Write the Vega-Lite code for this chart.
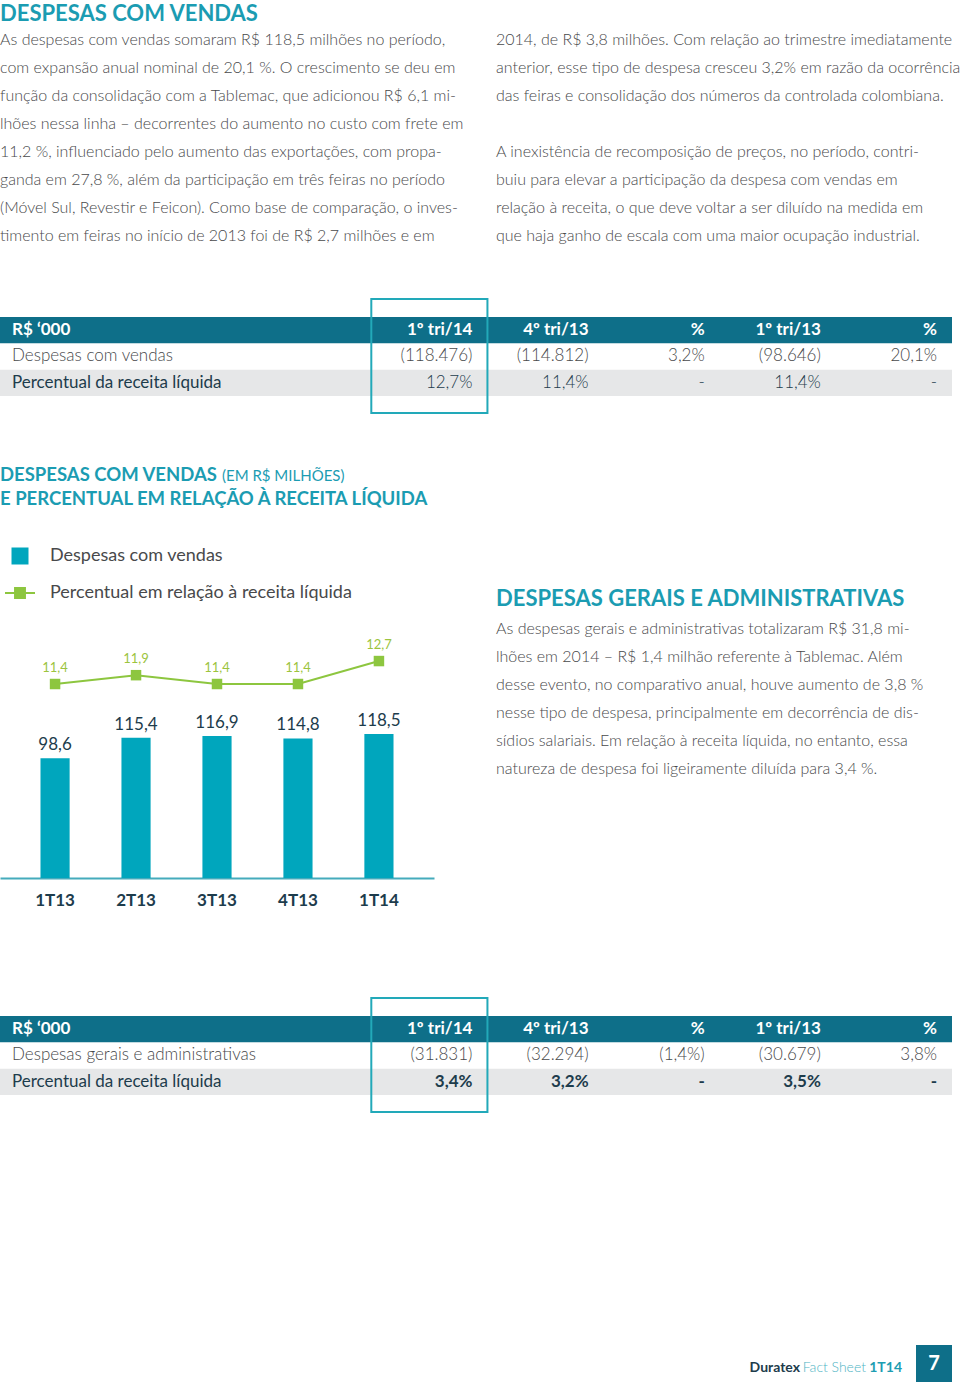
{
  "$schema": "https://vega.github.io/schema/vega-lite/v6.json",
  "padding": 0,
  "autosize": {"type": "pad"},
  "background": "#ffffff",
  "spacing": 0,
  "config": {
    "view": {"stroke": null},
    "font": "Lato",
    "text": {"font": "Lato"},
    "locale": {"number": {"decimal": ",", "thousands": ".", "grouping": [3], "currency": ["R$ ", ""]}}
  },
  "datasets": {
    "textA": [
      {"col": "L", "line": 0, "kind": "head", "text": "DESPESAS COM VENDAS"},
      {"col": "L", "line": 1, "kind": "body", "text": "As despesas com vendas somaram R$ 118,5 milhões no período,"},
      {"col": "L", "line": 2, "kind": "body", "text": "com expansão anual nominal de 20,1 %. O crescimento se deu em"},
      {"col": "L", "line": 3, "kind": "body", "text": "função da consolidação com a Tablemac, que adicionou R$ 6,1 mi-"},
      {"col": "L", "line": 4, "kind": "body", "text": "lhões nessa linha – decorrentes do aumento no custo com frete em"},
      {"col": "L", "line": 5, "kind": "body", "text": "11,2 %, influenciado pelo aumento das exportações, com propa-"},
      {"col": "L", "line": 6, "kind": "body", "text": "ganda em 27,8 %, além da participação em três feiras no período"},
      {"col": "L", "line": 7, "kind": "body", "text": "(Móvel Sul, Revestir e Feicon). Como base de comparação, o inves-"},
      {"col": "L", "line": 8, "kind": "body", "text": "timento em feiras no início de 2013 foi de R$ 2,7 milhões e em"},
      {"col": "R", "line": 1, "kind": "body", "text": "2014, de R$ 3,8 milhões. Com relação ao trimestre imediatamente"},
      {"col": "R", "line": 2, "kind": "body", "text": "anterior, esse tipo de despesa cresceu 3,2% em razão da ocorrência"},
      {"col": "R", "line": 3, "kind": "body", "text": "das feiras e consolidação dos números da controlada colombiana."},
      {"col": "R", "line": 5, "kind": "body", "text": "A inexistência de recomposição de preços, no período, contri-"},
      {"col": "R", "line": 6, "kind": "body", "text": "buiu para elevar a participação da despesa com vendas em"},
      {"col": "R", "line": 7, "kind": "body", "text": "relação à receita, o que deve voltar a ser diluído na medida em"},
      {"col": "R", "line": 8, "kind": "body", "text": "que haja ganho de escala com uma maior ocupação industrial."}
    ],
    "textC": [
      {"col": "R", "line": 0, "kind": "head", "text": "DESPESAS GERAIS E ADMINISTRATIVAS"},
      {"col": "R", "line": 1, "kind": "body", "text": "As despesas gerais e administrativas totalizaram R$ 31,8 mi-"},
      {"col": "R", "line": 2, "kind": "body", "text": "lhões em 2014 – R$ 1,4 milhão referente à Tablemac. Além"},
      {"col": "R", "line": 3, "kind": "body", "text": "desse evento, no comparativo anual, houve aumento de 3,8 %"},
      {"col": "R", "line": 4, "kind": "body", "text": "nesse tipo de despesa, principalmente em decorrência de dis-"},
      {"col": "R", "line": 5, "kind": "body", "text": "sídios salariais. Em relação à receita líquida, no entanto, essa"},
      {"col": "R", "line": 6, "kind": "body", "text": "natureza de despesa foi ligeiramente diluída para 3,4 %."}
    ],
    "ctitle": [
      {"col": "T", "line": 1, "part": "a", "text": "DESPESAS COM VENDAS"},
      {"col": "T", "line": 1, "part": "b", "text": "(EM R$ MILHÕES)"},
      {"col": "T", "line": 2, "part": "a", "text": "E PERCENTUAL EM RELAÇÃO À RECEITA LÍQUIDA"}
    ],
    "chart": [
      {"q": "1T13", "desp": 98.6, "pct": 11.4},
      {"q": "2T13", "desp": 115.4, "pct": 11.9},
      {"q": "3T13", "desp": 116.9, "pct": 11.4},
      {"q": "4T13", "desp": 114.8, "pct": 11.4},
      {"q": "1T14", "desp": 118.5, "pct": 12.7}
    ],
    "t1": [
      {"row": "h", "col": "label", "text": "R$ ‘000"},
      {"row": "h", "col": "c1", "text": "1º tri/14"},
      {"row": "h", "col": "c2", "text": "4º tri/13"},
      {"row": "h", "col": "c3", "text": "%"},
      {"row": "h", "col": "c4", "text": "1º tri/13"},
      {"row": "h", "col": "c5", "text": "%"},
      {"row": "r1", "col": "label", "text": "Despesas com vendas"},
      {"row": "r1", "col": "c1", "text": "(118.476)"},
      {"row": "r1", "col": "c2", "text": "(114.812)"},
      {"row": "r1", "col": "c3", "text": "3,2%"},
      {"row": "r1", "col": "c4", "text": "(98.646)"},
      {"row": "r1", "col": "c5", "text": "20,1%"},
      {"row": "r2", "col": "label", "text": "Percentual da receita líquida"},
      {"row": "r2", "col": "c1", "text": "12,7%"},
      {"row": "r2", "col": "c2", "text": "11,4%"},
      {"row": "r2", "col": "c3", "text": "-"},
      {"row": "r2", "col": "c4", "text": "11,4%"},
      {"row": "r2", "col": "c5", "text": "-"}
    ],
    "t2": [
      {"row": "h", "col": "label", "text": "R$ ‘000"},
      {"row": "h", "col": "c1", "text": "1º tri/14"},
      {"row": "h", "col": "c2", "text": "4º tri/13"},
      {"row": "h", "col": "c3", "text": "%"},
      {"row": "h", "col": "c4", "text": "1º tri/13"},
      {"row": "h", "col": "c5", "text": "%"},
      {"row": "r1", "col": "label", "text": "Despesas gerais e administrativas"},
      {"row": "r1", "col": "c1", "text": "(31.831)"},
      {"row": "r1", "col": "c2", "text": "(32.294)"},
      {"row": "r1", "col": "c3", "text": "(1,4%)"},
      {"row": "r1", "col": "c4", "text": "(30.679)"},
      {"row": "r1", "col": "c5", "text": "3,8%"},
      {"row": "r2", "col": "label", "text": "Percentual da receita líquida"},
      {"row": "r2", "col": "c1", "text": "3,4%"},
      {"row": "r2", "col": "c2", "text": "3,2%"},
      {"row": "r2", "col": "c3", "text": "-"},
      {"row": "r2", "col": "c4", "text": "3,5%"},
      {"row": "r2", "col": "c5", "text": "-"}
    ],
    "footer": [
      {"page": "7", "brand": "Duratex", "doc": "Fact Sheet", "period": "1T14"}
    ]
  },
  "vconcat": [
    {
      "width": 952, "height": 298,
      "data": {"name": "textA"},
      "encoding": {
        "x": {"field": "col", "type": "nominal", "axis": null, "bandPosition": 0, "scale": {"type": "band", "domain": ["L", "R"], "paddingInner": 0.0806, "paddingOuter": 0}},
        "y": {"field": "line", "type": "quantitative", "axis": null, "scale": {"domain": [-0.4286, 10.2143], "reverse": true, "zero": false, "nice": false}},
        "text": {"field": "text"}
      },
      "layer": [
        {"transform": [{"filter": "datum.kind === 'head'"}], "mark": {"type": "text", "align": "left", "baseline": "middle", "fontWeight": "bold", "fontSize": 22, "color": "#1b9cb2", "dy": 2}},
        {"transform": [{"filter": "datum.kind === 'body'"}], "mark": {"type": "text", "align": "left", "baseline": "middle", "fontWeight": 300, "fontSize": 16, "color": "#48494b"}}
      ]
    },
    {
      "width": 952, "height": 114,
      "data": {"name": "t1"},
      "resolve": {"scale": {"x": "independent"}},
      "encoding": {
        "y": {"field": "row", "type": "ordinal", "axis": null, "scale": {"type": "band", "domain": ["h", "r1", "r2"], "paddingInner": 0, "paddingOuter": 0.665, "align": 0.514}}
      },
      "layer": [
        {"transform": [{"filter": "datum.col === 'label' && datum.row === 'h'"}], "mark": {"type": "rect", "color": "#0e6f89"}},
        {"transform": [{"filter": "datum.col === 'label' && datum.row === 'r2'"}], "mark": {"type": "rect", "color": "#e6e7e8"}},
        {"transform": [{"filter": "datum.col === 'label' && datum.row === 'h'"}], "mark": {"type": "text", "align": "left", "baseline": "middle", "dx": 12, "fontWeight": "bold", "fontSize": 17, "color": "#ffffff"},
         "encoding": {"x": {"field": "col", "type": "nominal", "axis": null, "bandPosition": 0, "scale": {"type": "band", "domain": ["label"], "paddingInner": 0, "paddingOuter": 0}}, "text": {"field": "text"}}},
        {"transform": [{"filter": "datum.col === 'label' && datum.row === 'r1'"}], "mark": {"type": "text", "align": "left", "baseline": "middle", "dx": 12, "fontWeight": 300, "fontSize": 17, "color": "#48494b"},
         "encoding": {"x": {"field": "col", "type": "nominal", "axis": null, "bandPosition": 0, "scale": {"type": "band", "domain": ["label"], "paddingInner": 0, "paddingOuter": 0}}, "text": {"field": "text"}}},
        {"transform": [{"filter": "datum.col === 'label' && datum.row === 'r2'"}], "mark": {"type": "text", "align": "left", "baseline": "middle", "dx": 12, "fontWeight": "normal", "fontSize": 17, "color": "#1d3c4c"},
         "encoding": {"x": {"field": "col", "type": "nominal", "axis": null, "bandPosition": 0, "scale": {"type": "band", "domain": ["label"], "paddingInner": 0, "paddingOuter": 0}}, "text": {"field": "text"}}},
        {"transform": [{"filter": "datum.col !== 'label' && datum.row === 'h'"}], "mark": {"type": "text", "align": "right", "baseline": "middle", "dx": -15, "fontWeight": "bold", "fontSize": 17, "color": "#ffffff"},
         "encoding": {"x": {"field": "col", "type": "nominal", "axis": null, "bandPosition": 1, "scale": {"type": "band", "domain": ["x1", "x2", "c1", "c2", "c3", "c4", "c5"], "paddingInner": 0, "paddingOuter": 0.5985, "align": 1}}, "text": {"field": "text"}}},
        {"transform": [{"filter": "datum.col !== 'label' && datum.row === 'r1'"}], "mark": {"type": "text", "align": "right", "baseline": "middle", "dx": -15, "fontWeight": 300, "fontSize": 17, "color": "#48494b"},
         "encoding": {"x": {"field": "col", "type": "nominal", "axis": null, "bandPosition": 1, "scale": {"type": "band", "domain": ["x1", "x2", "c1", "c2", "c3", "c4", "c5"], "paddingInner": 0, "paddingOuter": 0.5985, "align": 1}}, "text": {"field": "text"}}},
        {"transform": [{"filter": "datum.col !== 'label' && datum.row === 'r2'"}], "mark": {"type": "text", "align": "right", "baseline": "middle", "dx": -15, "fontWeight": 300, "fontSize": 17, "color": "#1d3c4c"},
         "encoding": {"x": {"field": "col", "type": "nominal", "axis": null, "bandPosition": 1, "scale": {"type": "band", "domain": ["x1", "x2", "c1", "c2", "c3", "c4", "c5"], "paddingInner": 0, "paddingOuter": 0.5985, "align": 1}}, "text": {"field": "text"}}},
        {"transform": [{"filter": "datum.col === 'c1' && datum.row === 'h'"}], "mark": {"type": "rect", "fillOpacity": 0, "stroke": "#22a9b9", "strokeWidth": 2},
         "encoding": {"x": {"field": "col", "type": "nominal", "axis": null, "scale": {"type": "band", "domain": ["x1", "x2", "c1", "c2", "c3", "c4", "c5"], "paddingInner": 0, "paddingOuter": 0.5985, "align": 1}}, "y": null}}
      ]
    },
    {
      "hconcat": [
        {
          "width": 434, "height": 464,
          "data": {"name": "chart"},
          "layer": [
            {
              "mark": {"type": "bar"},
              "encoding": {
                "x": {"field": "q", "type": "nominal", "sort": null,
                      "scale": {"type": "band", "paddingInner": 0.64, "paddingOuter": 0.5},
                      "axis": {"title": null, "domain": true, "domainColor": "#45abbc", "domainWidth": 2, "ticks": false, "tickSize": 0, "grid": false, "labelAngle": 0, "labelPadding": 14, "labelFont": "Lato", "labelFontSize": 17, "labelFontWeight": "bold", "labelColor": "#1d3c4c"}},
                "y": {"field": "desp", "type": "quantitative", "scale": {"domain": [0, 381.8], "nice": false}, "axis": null},
                "color": {
                  "datum": "Despesas com vendas", "type": "nominal",
                  "scale": {"domain": ["Despesas com vendas", "Percentual em relação à receita líquida"], "range": ["#00a6bd", "#8dc63f"]},
                  "legend": {
                    "orient": "none", "legendX": 11, "legendY": 547, "title": null, "direction": "vertical",
                    "labelFont": "Lato", "labelFontSize": 18, "labelColor": "#48494b", "labelOffset": 21, "labelLimit": 420,
                    "rowPadding": 19, "padding": 0, "symbolSize": 900, "symbolStrokeWidth": 2,
                    "encode": {
                      "symbols": {
                        "update": {
                          "shape": {"signal": "datum.value === 'Despesas com vendas' ? 'square' : 'M-1,0H1M-0.33,-0.33H0.33V0.33H-0.33Z'"},
                          "size": {"signal": "datum.value === 'Despesas com vendas' ? 289 : 900"},
                          "fill": {"signal": "datum.value === 'Despesas com vendas' ? '#00a6bd' : '#8dc63f'"},
                          "stroke": {"signal": "datum.value === 'Despesas com vendas' ? '#00a6bd' : '#9dc84d'"},
                          "strokeWidth": {"signal": "datum.value === 'Despesas com vendas' ? 0 : 2"},
                          "opacity": {"value": 1},
                          "fillOpacity": {"value": 1}
                        }
                      }
                    }
                  }
                }
              }
            },
            {
              "mark": {"type": "text", "baseline": "alphabetic", "dy": -8, "fontSize": 17, "color": "#1d3c4c"},
              "encoding": {
                "x": {"field": "q", "type": "nominal", "sort": null, "axis": null, "scale": {"type": "band", "paddingInner": 0.64, "paddingOuter": 0.5}},
                "y": {"field": "desp", "type": "quantitative", "scale": {"domain": [0, 381.8], "nice": false}, "axis": null},
                "text": {"field": "desp", "type": "quantitative", "format": ".1f"}
              }
            },
            {
              "mark": {"type": "line", "strokeWidth": 2},
              "encoding": {
                "x": {"field": "q", "type": "nominal", "sort": null, "axis": null, "scale": {"type": "band", "paddingInner": 0.64, "paddingOuter": 0.5}},
                "y": {"field": "pct", "type": "quantitative", "scale": {"domain": [0.415, 26.69], "zero": false, "nice": false}, "axis": null},
                "color": {"datum": "Percentual em relação à receita líquida", "type": "nominal"}
              }
            },
            {
              "mark": {"type": "point", "shape": "square", "filled": true, "size": 110, "opacity": 1, "color": "#8dc63f"},
              "encoding": {
                "x": {"field": "q", "type": "nominal", "sort": null, "axis": null, "scale": {"type": "band", "paddingInner": 0.64, "paddingOuter": 0.5}},
                "y": {"field": "pct", "type": "quantitative", "scale": {"domain": [0.415, 26.69], "zero": false, "nice": false}, "axis": null}
              }
            },
            {
              "mark": {"type": "text", "baseline": "alphabetic", "dy": -12, "fontSize": 13, "color": "#9cc43e"},
              "encoding": {
                "x": {"field": "q", "type": "nominal", "sort": null, "axis": null, "scale": {"type": "band", "paddingInner": 0.64, "paddingOuter": 0.5}},
                "y": {"field": "pct", "type": "quantitative", "scale": {"domain": [0.415, 26.69], "zero": false, "nice": false}, "axis": null},
                "text": {"field": "pct", "type": "quantitative", "format": ".1f"}
              }
            },
            {
              "data": {"name": "ctitle"},
              "transform": [{"filter": "datum.part === 'a'"}],
              "mark": {"type": "text", "align": "left", "baseline": "middle", "fontWeight": "bold", "fontSize": 18.5, "color": "#1b9cb2"},
              "encoding": {
                "x": {"field": "col", "type": "nominal", "axis": null, "bandPosition": 0, "scale": {"type": "band", "paddingInner": 0, "paddingOuter": 0}},
                "y": {"field": "line", "type": "quantitative", "axis": null, "scale": {"domain": [-1.5417, 17.7917], "reverse": true, "zero": false, "nice": false}},
                "text": {"field": "text"}
              }
            },
            {
              "data": {"name": "ctitle"},
              "transform": [{"filter": "datum.part === 'b'"}],
              "mark": {"type": "text", "align": "left", "baseline": "middle", "dx": 222, "dy": 1, "fontWeight": "normal", "fontSize": 15, "color": "#1b9cb2"},
              "encoding": {
                "x": {"field": "col", "type": "nominal", "axis": null, "bandPosition": 0, "scale": {"type": "band", "paddingInner": 0, "paddingOuter": 0}},
                "y": {"field": "line", "type": "quantitative", "axis": null, "scale": {"domain": [-1.5417, 17.7917], "reverse": true, "zero": false, "nice": false}},
                "text": {"field": "text"}
              }
            }
          ],
          "resolve": {"scale": {"x": "independent", "y": "independent"}}
        },
        {
          "width": 456, "height": 583,
          "data": {"name": "textC"},
          "encoding": {
            "x": {"field": "col", "type": "nominal", "axis": null, "bandPosition": 0, "scale": {"type": "band", "paddingInner": 0, "paddingOuter": 0}},
            "y": {"field": "line", "type": "quantitative", "axis": null, "scale": {"domain": [-6.679, 14.143], "reverse": true, "zero": false, "nice": false}},
            "text": {"field": "text"}
          },
          "layer": [
            {"transform": [{"filter": "datum.kind === 'head'"}], "mark": {"type": "text", "align": "left", "baseline": "middle", "fontWeight": "bold", "fontSize": 22, "color": "#1b9cb2", "dy": -2}},
            {"transform": [{"filter": "datum.kind === 'body'"}], "mark": {"type": "text", "align": "left", "baseline": "middle", "fontWeight": 300, "fontSize": 16, "color": "#48494b"}}
          ]
        }
      ],
      "spacing": 62
    },
    {
      "width": 952, "height": 114,
      "data": {"name": "t2"},
      "resolve": {"scale": {"x": "independent"}},
      "encoding": {
        "y": {"field": "row", "type": "ordinal", "axis": null, "scale": {"type": "band", "domain": ["h", "r1", "r2"], "paddingInner": 0, "paddingOuter": 0.665, "align": 0.514}}
      },
      "layer": [
        {"transform": [{"filter": "datum.col === 'label' && datum.row === 'h'"}], "mark": {"type": "rect", "color": "#0e6f89"}},
        {"transform": [{"filter": "datum.col === 'label' && datum.row === 'r2'"}], "mark": {"type": "rect", "color": "#e6e7e8"}},
        {"transform": [{"filter": "datum.col === 'label' && datum.row === 'h'"}], "mark": {"type": "text", "align": "left", "baseline": "middle", "dx": 12, "fontWeight": "bold", "fontSize": 17, "color": "#ffffff"},
         "encoding": {"x": {"field": "col", "type": "nominal", "axis": null, "bandPosition": 0, "scale": {"type": "band", "domain": ["label"], "paddingInner": 0, "paddingOuter": 0}}, "text": {"field": "text"}}},
        {"transform": [{"filter": "datum.col === 'label' && datum.row === 'r1'"}], "mark": {"type": "text", "align": "left", "baseline": "middle", "dx": 12, "fontWeight": 300, "fontSize": 17, "color": "#48494b"},
         "encoding": {"x": {"field": "col", "type": "nominal", "axis": null, "bandPosition": 0, "scale": {"type": "band", "domain": ["label"], "paddingInner": 0, "paddingOuter": 0}}, "text": {"field": "text"}}},
        {"transform": [{"filter": "datum.col === 'label' && datum.row === 'r2'"}], "mark": {"type": "text", "align": "left", "baseline": "middle", "dx": 12, "fontWeight": "normal", "fontSize": 17, "color": "#1d3c4c"},
         "encoding": {"x": {"field": "col", "type": "nominal", "axis": null, "bandPosition": 0, "scale": {"type": "band", "domain": ["label"], "paddingInner": 0, "paddingOuter": 0}}, "text": {"field": "text"}}},
        {"transform": [{"filter": "datum.col !== 'label' && datum.row === 'h'"}], "mark": {"type": "text", "align": "right", "baseline": "middle", "dx": -15, "fontWeight": "bold", "fontSize": 17, "color": "#ffffff"},
         "encoding": {"x": {"field": "col", "type": "nominal", "axis": null, "bandPosition": 1, "scale": {"type": "band", "domain": ["x1", "x2", "c1", "c2", "c3", "c4", "c5"], "paddingInner": 0, "paddingOuter": 0.5985, "align": 1}}, "text": {"field": "text"}}},
        {"transform": [{"filter": "datum.col !== 'label' && datum.row === 'r1'"}], "mark": {"type": "text", "align": "right", "baseline": "middle", "dx": -15, "fontWeight": 300, "fontSize": 17, "color": "#48494b"},
         "encoding": {"x": {"field": "col", "type": "nominal", "axis": null, "bandPosition": 1, "scale": {"type": "band", "domain": ["x1", "x2", "c1", "c2", "c3", "c4", "c5"], "paddingInner": 0, "paddingOuter": 0.5985, "align": 1}}, "text": {"field": "text"}}},
        {"transform": [{"filter": "datum.col !== 'label' && datum.row === 'r2'"}], "mark": {"type": "text", "align": "right", "baseline": "middle", "dx": -15, "fontWeight": "bold", "fontSize": 17, "color": "#1d3c4c"},
         "encoding": {"x": {"field": "col", "type": "nominal", "axis": null, "bandPosition": 1, "scale": {"type": "band", "domain": ["x1", "x2", "c1", "c2", "c3", "c4", "c5"], "paddingInner": 0, "paddingOuter": 0.5985, "align": 1}}, "text": {"field": "text"}}},
        {"transform": [{"filter": "datum.col === 'c1' && datum.row === 'h'"}], "mark": {"type": "rect", "fillOpacity": 0, "stroke": "#22a9b9", "strokeWidth": 2},
         "encoding": {"x": {"field": "col", "type": "nominal", "axis": null, "scale": {"type": "band", "domain": ["x1", "x2", "c1", "c2", "c3", "c4", "c5"], "paddingInner": 0, "paddingOuter": 0.5985, "align": 1}}, "y": null}}
      ]
    },
    {
      "width": 952, "height": 269,
      "data": {"name": "footer"},
      "encoding": {
        "x": {"field": "page", "type": "nominal", "axis": null, "scale": {"type": "band", "domain": ["blank", "7"], "paddingInner": 0.9607, "paddingOuter": 0}},
        "y": {"field": "page", "type": "nominal", "axis": null, "scale": {"type": "band", "domain": ["blank", "7"], "paddingInner": 0.8405, "paddingOuter": 0, "align": 0}}
      },
      "layer": [
        {"mark": {"type": "rect", "color": "#0e6f89"}},
        {"mark": {"type": "text", "align": "center", "baseline": "middle", "fontWeight": "bold", "fontSize": 20, "color": "#ffffff", "dy": 1}, "encoding": {"text": {"field": "page"}}},
        {"mark": {"type": "text", "align": "right", "baseline": "middle", "dx": -14, "dy": 5, "fontWeight": "bold", "fontSize": 14, "color": "#1d9db2"},
         "encoding": {"x": {"field": "page", "type": "nominal", "axis": null, "bandPosition": 0}, "text": {"field": "period"}}},
        {"mark": {"type": "text", "align": "right", "baseline": "middle", "dx": -50, "dy": 5, "fontWeight": 300, "fontSize": 14, "color": "#4fb4c4"},
         "encoding": {"x": {"field": "page", "type": "nominal", "axis": null, "bandPosition": 0}, "text": {"field": "doc"}}},
        {"mark": {"type": "text", "align": "right", "baseline": "middle", "dx": -116, "dy": 5, "fontWeight": "bold", "fontSize": 14, "color": "#1d3c4c"},
         "encoding": {"x": {"field": "page", "type": "nominal", "axis": null, "bandPosition": 0}, "text": {"field": "brand"}}}
      ]
    }
  ]
}
